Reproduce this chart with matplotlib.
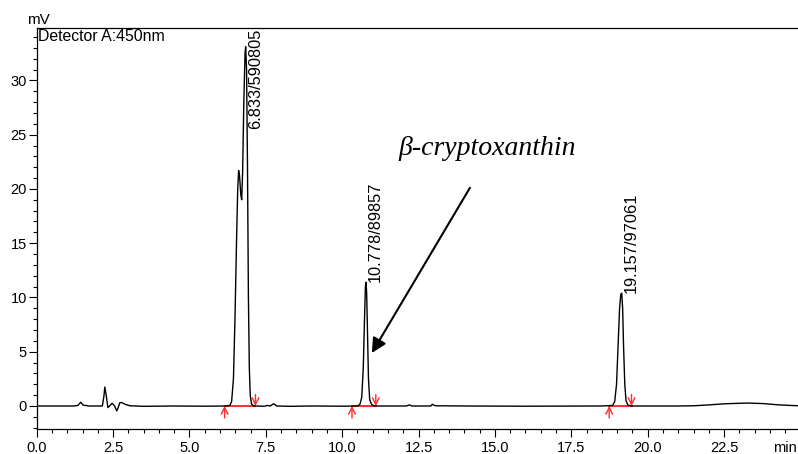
#!/usr/bin/env python3
"""Chromatogram (Detector A: 450 nm) with integrated peaks."""

import matplotlib
matplotlib.use("Agg")
import matplotlib.pyplot as plt
from matplotlib.ticker import MultipleLocator

# ---------------------------------------------------------------------------
# Data (time in min, signal in mV)
# ---------------------------------------------------------------------------
time_min = [
    0.0, 1.2, 1.35, 1.44, 1.52, 1.7, 2.15, 2.20, 2.23, 2.28, 2.33, 2.40, 2.47,
    2.55, 2.62, 2.66, 2.72, 2.78, 2.90, 3.05, 3.5, 4.5, 5.5, 6.2, 6.32, 6.38,
    6.44, 6.49, 6.54, 6.58, 6.61, 6.64, 6.68, 6.71, 6.74, 6.78, 6.82, 6.84,
    6.87, 6.90, 6.93, 6.96, 6.99, 7.03, 7.10, 7.45, 7.55, 7.65, 7.72, 7.77,
    7.85, 8.3, 9.0, 10.0, 10.5, 10.58, 10.64, 10.69, 10.73, 10.76, 10.778,
    10.80, 10.83, 10.86, 10.90, 10.96, 11.05, 12.1, 12.2, 12.28, 12.9, 12.95,
    13.05, 14.0, 16.0, 18.5, 18.85, 18.92, 18.98, 19.03, 19.08, 19.12, 19.15,
    19.18, 19.21, 19.25, 19.29, 19.35, 19.45, 21.0, 21.5, 22.0, 22.5, 23.0,
    23.3, 23.8, 24.3, 24.92,
]
signal_mv = [
    0.0, 0.0, 0.05, 0.35, 0.08, 0.0, 0.0, 0.9, 1.75, 0.9, -0.15, 0.05, 0.25,
    0.0, -0.45, -0.2, 0.3, 0.32, 0.15, 0.02, -0.03, 0.0, -0.02, 0.0, 0.05, 0.4,
    2.5, 8.0, 15.0, 20.0, 21.7, 21.2, 19.5, 19.0, 21.5, 28.0, 32.5, 33.1,
    31.0, 22.0, 10.0, 3.5, 1.0, 0.2, 0.0, -0.02, 0.05, 0.0, 0.15, 0.2,
    0.0, -0.03, 0.0, -0.02, 0.0, 0.15, 0.8, 3.5, 8.0, 11.0, 11.4,
    10.5, 6.5, 2.5, 0.6, 0.15, 0.0, 0.0, 0.1, 0.0, 0.0, 0.15,
    0.02, 0.0, -0.02, 0.0, 0.05, 0.4, 2.0, 5.5, 9.0, 10.3, 10.4,
    9.0, 5.5, 2.0, 0.5, 0.1, 0.0, 0.0, 0.02, 0.1, 0.2, 0.25,
    0.27, 0.22, 0.1, 0.02,
]

# Peak table
peak_rt = [6.833, 10.778, 19.157]
peak_area = [590805, 89857, 97061]
peak_top_mv = [33.1, 11.4, 10.4]
peak_start = [6.15, 10.32, 18.74]
peak_end = [7.16, 11.10, 19.47]

x_ticks = [0.0, 2.5, 5.0, 7.5, 10.0, 12.5, 15.0, 17.5, 20.0, 22.5]
y_ticks = [0, 5, 10, 15, 20, 25, 30]

RED = "#ff2b2b"
W, H = 798, 454

plt.rcParams["font.family"] = ["Liberation Sans", "DejaVu Sans"]

fig = plt.figure(figsize=(W / 100, H / 100), dpi=100)
ax = fig.add_axes([36.7 / W, 1 - 429 / H, 1 - 36.7 / W, (429 - 28.3) / H])

ax.plot(time_min, signal_mv, color="black", lw=1.0, zorder=3)

# Integration baselines with start / end markers
for t0, t1 in zip(peak_start, peak_end):
    ax.plot([t0, t1], [0, 0], color=RED, lw=1.4, zorder=2)
    ax.annotate("", xy=(t0, 0), xytext=(t0, -1.1),
                arrowprops=dict(arrowstyle="->", color=RED, lw=1.0,
                                mutation_scale=12, shrinkA=0, shrinkB=0))
    ax.annotate("", xy=(t1, 0), xytext=(t1, 1.05),
                arrowprops=dict(arrowstyle="->", color=RED, lw=1.0,
                                mutation_scale=12, shrinkA=0, shrinkB=0))

ax.set_xlim(0, 24.92)
ax.set_ylim(-2.12, 34.8)

# Peak labels "rt/area"
for i, (rt, area, top) in enumerate(zip(peak_rt, peak_area, peak_top_mv)):
    label = f"{rt:.3f}/{area}"
    if i == 0:
        # tallest peak: label pushed down to fit under the frame
        ax.annotate(label, xy=(rt, ax.get_ylim()[1]), xytext=(2.0, -0.5),
                    textcoords="offset points", rotation=90,
                    ha="left", va="top", fontsize=11.8)
    else:
        ax.annotate(label, xy=(rt, top), xytext=(1.0, 0),
                    textcoords="offset points", rotation=90,
                    ha="left", va="bottom", fontsize=11.8)

# Compound callout
ax.text(14.74, 23.1, "\u03b2-cryptoxanthin", family="Liberation Serif",
        style="italic", fontsize=20, ha="center", va="baseline")
ax.annotate("", xy=(10.97, 4.88), xytext=(14.18, 20.1),
            arrowprops=dict(arrowstyle="-|>", color="black", lw=1.5,
                            mutation_scale=22, shrinkA=0, shrinkB=0))

ax.text(0.002, 0.998, "Detector A:450nm", transform=ax.transAxes,
        ha="left", va="top", fontsize=11.4)

# Axes formatting ------------------------------------------------------------
ax.set_xticks(x_ticks)
ax.set_xticklabels([f"{v:.1f}" for v in x_ticks])
ax.set_yticks(y_ticks)
ax.xaxis.set_minor_locator(MultipleLocator(0.5))
ax.yaxis.set_minor_locator(MultipleLocator(1))
ax.tick_params(which="major", length=5.5, width=0.8, labelsize=10.5)
ax.tick_params(axis="y", which="major", pad=1.5)
ax.tick_params(which="minor", length=3, width=0.8)
ax.spines["right"].set_visible(False)
for s in ("left", "bottom", "top"):
    ax.spines[s].set_linewidth(0.9)

fig.text(38.5 / W, 1 - 24 / H, "mV", ha="center", va="baseline", fontsize=11)
fig.text(0.999, 1 - 452 / H, "min", ha="right", va="baseline", fontsize=10.5)

fig.savefig("out.png", dpi=100)
